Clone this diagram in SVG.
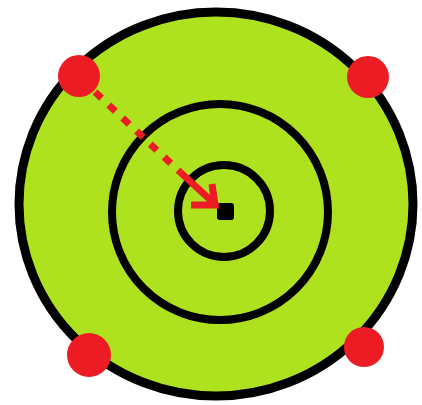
<svg xmlns="http://www.w3.org/2000/svg" width="422" height="405" viewBox="0 0 422 405">
  <style>
    .ring { fill: none; stroke: #000; stroke-width: 8; }
    .dot { fill: #ed1c24; }
    .arrow { fill: none; stroke: #ed1c24; stroke-width: 7; }
  </style>
  <rect width="422" height="405" fill="#fff"/>
  <g id="target">
    <ellipse cx="216" cy="204" rx="197" ry="192" fill="#aee21e" stroke="#000" stroke-width="9"/>
    <circle class="ring" cx="220" cy="212" r="108"/>
    <circle class="ring" cx="224" cy="211" r="46"/>
    <rect x="217" y="203" width="17" height="17" rx="3" fill="#000"/>
  </g>
  <g id="dot-top-left"><circle class="dot" cx="79" cy="76" r="21"/></g>
  <g id="dot-top-right"><circle class="dot" cx="368" cy="77" r="21"/></g>
  <g id="dot-bottom-left"><circle class="dot" cx="89" cy="355" r="22"/></g>
  <g id="dot-bottom-right"><circle class="dot" cx="364" cy="347" r="20"/></g>
  <g id="connectors">
    <path class="arrow" d="M95 92 L180 172" stroke-dasharray="9 10"/>
    <path class="arrow" d="M180 172 L217 206" stroke-width="6"/>
    <path class="arrow" d="M212 184 L215 205 L191 205" stroke-width="5"/>
  </g>
</svg>
